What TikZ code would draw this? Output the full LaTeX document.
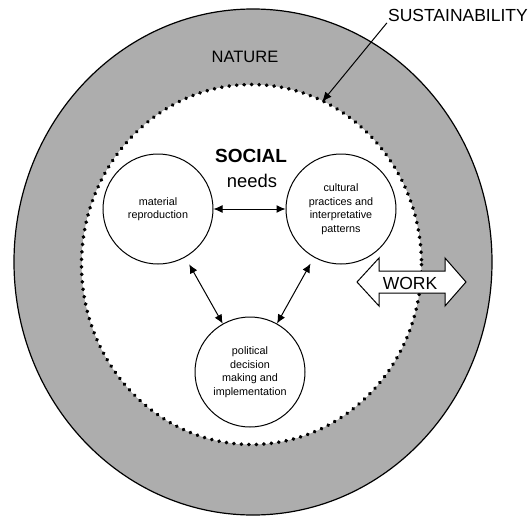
\documentclass[tikz,border=0pt]{standalone}
\usepackage{fontspec}
\setmainfont{Liberation Sans}
\usetikzlibrary{arrows.meta}

\begin{document}
\begin{tikzpicture}[x=1pt,y=-1pt,
  need/.style={draw,circle,line width=1pt,minimum size=110pt,inner sep=0pt,align=center,
    font=\fontsize{10.8}{13.5}\selectfont},
  link/.style={{Latex[length=9pt,width=8pt]}-{Latex[length=9pt,width=8pt]},line width=1pt}]
\useasboundingbox (0,0) rectangle (531,517);

% nature ring and the dotted border of the social sphere
\filldraw[fill=black!32,line width=1.2pt] (253,262) ellipse [x radius=239,y radius=253];
\fill[white] (251.5,264.5) ellipse [x radius=170,y radius=180];
\draw[line width=3.8pt,dash pattern=on 0.2pt off 7.3pt,line cap=round] (251.5,264.5) ellipse [x radius=170,y radius=180];

\node[anchor=base] (nature) at (245,62) {\fontsize{16.5}{18}\selectfont NATURE};
\node[anchor=base east,inner sep=1pt] (sus) at (529,21.5) {\fontsize{17.5}{20}\selectfont SUSTAINABILITY};
\coordinate (dot) at (322,102);
\draw[-{Latex[length=10pt,width=8pt]},line width=1pt] (sus.south west) -- (dot);

\node[anchor=base] (social) at (251,162) {\fontsize{19}{21}\selectfont\bfseries SOCIAL};
\node[anchor=base] (needs) at (252,187) {\fontsize{18.4}{21}\selectfont needs};

\node[need] (mat) at (158,209) {material\\reproduction};
\node[need] (cul) at (341,209) {cultural\\practices and\\interpretative\\patterns};
\node[need] (pol) at (250,372) {political\\decision\\making and\\implementation};

\draw[link] (mat) -- (cul);
\draw[link,shorten <=8pt] (mat) -- (pol);
\draw[link,shorten <=7pt] (cul) -- (pol);

% work arrow crossing the border
\filldraw[fill=white,line width=1pt] (357,282) -- (379,258) -- (379,271) -- (445,271) -- (445,258)
  -- (466,282) -- (445,306) -- (445,293) -- (379,293) -- (379,306) -- cycle;
\node[anchor=base] (work) at (410,289) {\fontsize{17.5}{20}\selectfont WORK};
\end{tikzpicture}
\end{document}
